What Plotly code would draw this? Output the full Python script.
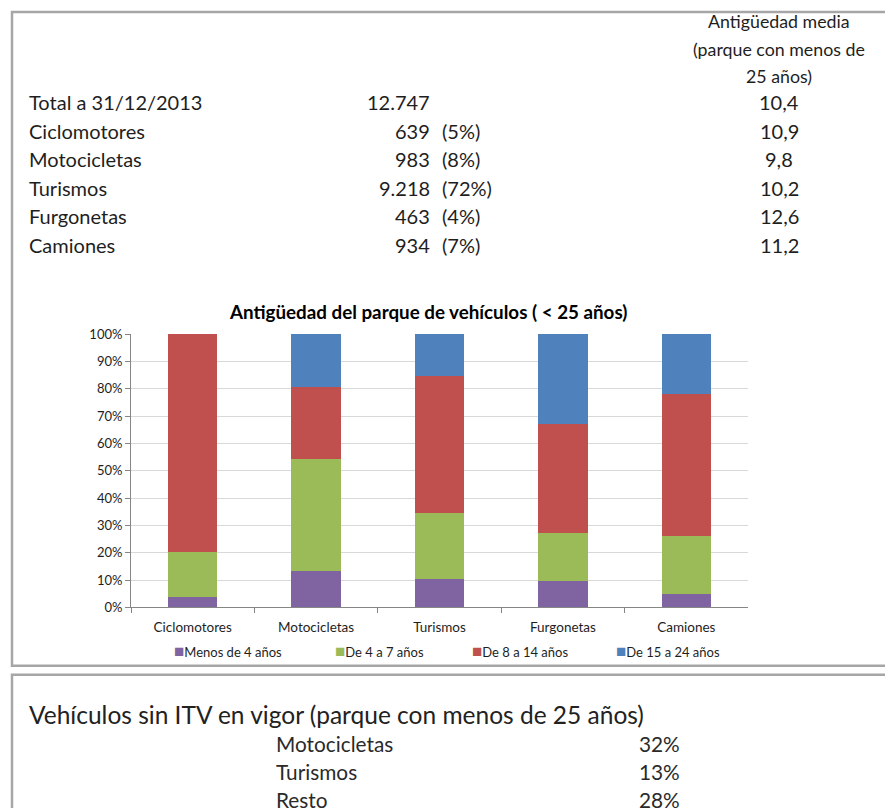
"""Antigüedad del parque de vehículos: tabla resumen + barras apiladas al 100%."""

import plotly.graph_objects as go

W, H = 885, 808
# la captura comprime un poco en vertical: y_captura ~ 0.979 * y_pagina + 9
SY, OY = 0.979, 9.0

# --- datos ---------------------------------------------------------------
filas = ["Total a 31/12/2013", "Ciclomotores", "Motocicletas", "Turismos", "Furgonetas", "Camiones"]
parque = ["12.747", "639", "983", "9.218", "463", "934"]
cuota = ["", "(5%)", "(8%)", "(72%)", "(4%)", "(7%)"]
antiguedad_media = ["10,4", "10,9", "9,8", "10,2", "12,6", "11,2"]
cabecera_media = ["Antigüedad media", "(parque con menos de", "25 años)"]

categorias = ["Ciclomotores", "Motocicletas", "Turismos", "Furgonetas", "Camiones"]
tramos = ["Menos de 4 años", "De 4 a 7 años", "De 8 a 14 años", "De 15 a 24 años"]
menos_4 = [0.037, 0.132, 0.104, 0.095, 0.049]
de_4_a_7 = [0.166, 0.410, 0.242, 0.179, 0.213]
de_8_a_14 = [0.797, 0.265, 0.500, 0.398, 0.520]
de_15_a_24 = [0.000, 0.193, 0.154, 0.328, 0.218]

itv_titulo = "Vehículos sin ITV en vigor (parque con menos de 25 años)"
itv_tipos = ["Motocicletas", "Turismos", "Resto"]
itv_pct = ["32%", "13%", "28%"]

COLORES = ["#8064A2", "#9BBB59", "#C0504D", "#4F81BD"]  # paleta office
FONT = "Lato"
TXT = "#1E1E1E"
BORDE = "#A6A6A6"


def X(px):
    return px / W


def Y(py):
    return 1 - ((py - OY) / SY) / H


fig = go.Figure()
for nombre, valores, color in zip(tramos, [menos_4, de_4_a_7, de_8_a_14, de_15_a_24], COLORES):
    fig.add_trace(go.Bar(x=categorias, y=valores, name=nombre,
                         marker=dict(color=color, line=dict(width=0))))

anns = []
# tabla superior
for i, txt in enumerate(cabecera_media):
    anns.append(dict(x=X(779), y=Y(22 + i * 27.5), text=txt, xanchor="center", yanchor="middle",
                     font=dict(size=17.8, color=TXT)))
for i, fila in enumerate(filas):
    yy = Y(103 + i * 28.5)
    anns.append(dict(x=X(27), y=yy, text=fila, xanchor="left", yanchor="middle",
                     font=dict(size=20, color=TXT)))
    anns.append(dict(x=X(432), y=yy, text=parque[i], xanchor="right", yanchor="middle",
                     font=dict(size=20, color=TXT)))
    if cuota[i]:
        anns.append(dict(x=X(440), y=yy, text=cuota[i], xanchor="left", yanchor="middle",
                         font=dict(size=20, color=TXT)))
    anns.append(dict(x=X(779), y=yy, text=antiguedad_media[i], xanchor="center", yanchor="middle",
                     font=dict(size=20, color=TXT)))

# titulo del grafico
anns.append(dict(x=X(428), y=Y(312), text="<b>Antigüedad del parque de vehículos ( < 25 años)</b>",
                 xanchor="center", yanchor="middle", font=dict(size=18.8, color="#000000")))

# leyenda manual
ley_x = [172, 333, 470, 614]
for nombre, color, lx in zip(tramos, COLORES, ley_x):
    anns.append(dict(x=X(lx), y=Y(651),
                     text=f"<span style='color:{color};font-size:17px'>■</span>{nombre}",
                     xanchor="left", yanchor="middle", font=dict(size=13, color=TXT)))

# tabla inferior (ITV)
anns.append(dict(x=X(27), y=Y(715), text=itv_titulo, xanchor="left", yanchor="middle",
                 font=dict(size=24.5, color="#222222")))
for i, tipo in enumerate(itv_tipos):
    yy = Y(744 + i * 28)
    anns.append(dict(x=X(274), y=yy, text=tipo, xanchor="left", yanchor="middle",
                     font=dict(size=20.8, color="#2A2A2A")))
    anns.append(dict(x=X(682), y=yy, text=itv_pct[i], xanchor="right", yanchor="middle",
                     font=dict(size=20.8, color="#2A2A2A")))

for a in anns:
    a.update(xref="paper", yref="paper", showarrow=False)

shapes = [
    dict(type="rect", xref="paper", yref="paper", x0=X(12), x1=X(900), y0=Y(13), y1=Y(666),
         line=dict(color=BORDE, width=2.5)),
    dict(type="rect", xref="paper", yref="paper", x0=X(12), x1=X(900), y0=Y(675), y1=Y(840),
         line=dict(color=BORDE, width=2.5)),
]

fig.update_layout(
    width=W, height=H,
    margin=dict(l=0, r=0, t=0, b=0),
    paper_bgcolor="white", plot_bgcolor="white",
    barmode="stack", bargap=0.6,
    showlegend=False,
    font=dict(family=FONT, color=TXT),
    annotations=anns, shapes=shapes,
    xaxis=dict(domain=[X(131), X(748)], showline=True, linecolor="#868686", linewidth=1,
               ticks="outside", ticklen=5, tickcolor="#868686", tickson="boundaries",
               ticklabelstandoff=7, tickfont=dict(size=13.5, color=TXT), fixedrange=True),
    yaxis=dict(domain=[Y(607.7), Y(334.7)], range=[0, 1], dtick=0.1, tickformat=".0%",
               showline=True, linecolor="#868686", linewidth=1, ticks="outside", ticklen=5,
               tickcolor="#868686", showgrid=True, gridcolor="#D9D9D9", zeroline=False,
               tickfont=dict(size=13, color=TXT), fixedrange=True),
)

fig.write_html("out.html", config={"displayModeBar": False},
               post_script="document.body.style.margin='0';document.body.style.overflow='hidden';")
